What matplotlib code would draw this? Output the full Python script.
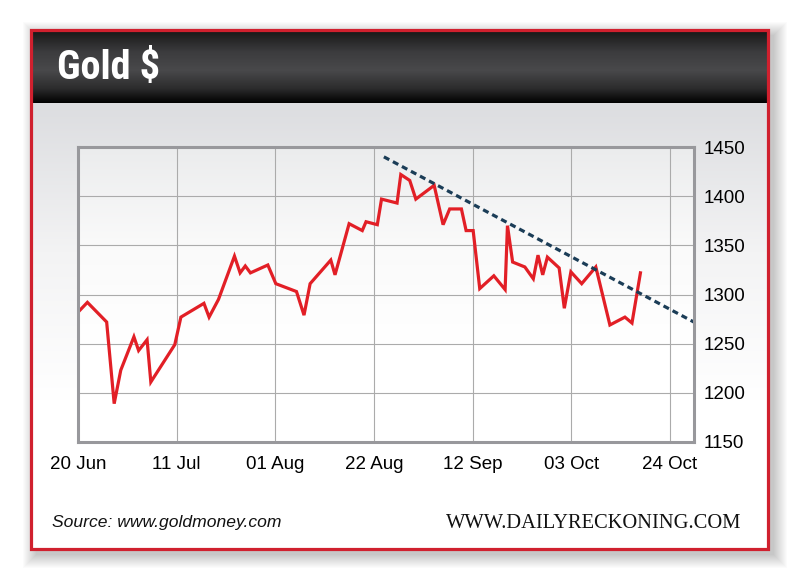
import matplotlib
matplotlib.use('Agg')
import matplotlib.pyplot as plt
import numpy as np
from matplotlib.patches import Rectangle
from matplotlib.colors import LinearSegmentedColormap

# days counted from 20 Jun, gold price in $
day = [0.2, 2.0, 6.1, 7.7, 9.1, 11.9, 12.9, 14.7, 15.5, 20.6,
       21.9, 26.8, 27.9, 29.9, 33.3, 34.5, 35.6, 36.7, 40.4, 42.1,
       46.5, 48.1, 49.4, 53.8, 54.7, 57.7, 60.5, 61.3, 63.7, 64.6,
       67.9, 68.7, 70.6, 71.9, 75.8, 77.7, 79.1, 81.6, 82.6, 84.1,
       85.5, 88.5, 90.9, 91.4, 92.5, 95.1, 96.9, 97.9, 98.9, 99.9,
       102.4, 103.5, 104.9, 107.2, 110.2, 113.2, 116.4, 117.9, 119.7]
price = [1283, 1292, 1272, 1189, 1223, 1257, 1243, 1254, 1211, 1249,
         1277, 1291, 1277, 1295, 1339, 1322, 1329, 1322, 1330, 1311,
         1303, 1279, 1311, 1335, 1320, 1372, 1365, 1374, 1371, 1397,
         1393, 1422, 1416, 1397, 1411, 1371, 1387, 1387, 1365, 1365,
         1306, 1319, 1305, 1370, 1333, 1328, 1316, 1340, 1320, 1338,
         1327, 1286, 1323, 1311, 1328, 1269, 1277, 1271, 1322]

trend_day = [65.1, 135.0]
trend_price = [1440, 1262]

tick_days = [0, 21, 42, 63, 84, 105, 126]
tick_labels = ['20 Jun', '11 Jul', '01 Aug', '22 Aug', '12 Sep', '03 Oct', '24 Oct']
y_ticks = [1150, 1200, 1250, 1300, 1350, 1400, 1450]

fig = plt.figure(figsize=(8, 5.8), dpi=100)
fig.patch.set_facecolor('white')

# background layer in pixel coordinates
bg = fig.add_axes([0, 0, 1, 1])
bg.set_xlim(0, 800)
bg.set_ylim(580, 0)
bg.axis('off')

# soft drop shadow
for i in range(14):
    bg.add_patch(Rectangle((31 - i + 5, 29 - i + 6), 738 + 2 * i, 520 + 2 * i,
                           facecolor='black', edgecolor='none', alpha=0.016))
bg.add_patch(Rectangle((31, 29), 738, 520, facecolor='white', edgecolor='none'))

# panel gradient below the header
panel_cmap = LinearSegmentedColormap.from_list('panel', ['#dcdde0', '#f3f3f4', '#ffffff', '#ffffff'])
grad = np.linspace(0, 1, 256).reshape(-1, 1)
bg.imshow(grad, cmap=panel_cmap, extent=[32, 768, 549, 103], aspect='auto', origin='upper', zorder=1)

# header band
head_cmap = LinearSegmentedColormap.from_list(
    'head', [(0, '#161616'), (0.3, '#3c3c3e'), (0.55, '#49494b'), (0.8, '#2c2c2d'), (1, '#000000')])
bg.imshow(grad, cmap=head_cmap, extent=[32, 768, 103, 30], aspect='auto', origin='upper', zorder=2)

# red frame
bg.add_patch(Rectangle((31, 29.5), 737, 519, facecolor='none', edgecolor='#d0202e', linewidth=2.3, zorder=3))

bg.text(57, 68, 'Gold $', color='white', fontsize=29, fontweight='bold', fontstretch='condensed',
        family=['Roboto Condensed', 'Liberation Sans Narrow', 'DejaVu Sans'],
        va='center', ha='left', zorder=4)
bg.text(52, 523, 'Source: www.goldmoney.com', fontsize=12.6, style='italic',
        family=['Liberation Sans', 'DejaVu Sans'], va='center', ha='left', color='#111111')
bg.text(741, 523, 'WWW.DAILYRECKONING.COM', fontsize=14.8,
        family=['Liberation Serif', 'DejaVu Serif'], va='center', ha='right', color='#111111')

# chart
ax = fig.add_axes([78 / 800, (580 - 442) / 580, 616 / 800, 295 / 580])
ax.set_facecolor('none')
plot_cmap = LinearSegmentedColormap.from_list('plotbg', ['#ebeced', '#fafafa', '#ffffff', '#ffffff'])
ax.imshow(grad, cmap=plot_cmap, extent=[0, 1, 0, 1], transform=ax.transAxes,
          aspect='auto', origin='upper', zorder=0)

ax.plot(day, price, color='#e21f26', linewidth=2.3, solid_joinstyle='miter', zorder=3)
ax.plot(trend_day, trend_price, color='#1b3d57', linewidth=2.3, linestyle=(0, (1.9, 1.3)), zorder=4)

ax.set_xlim(0, 131.1)
ax.set_ylim(1150, 1450)
ax.set_xticks(tick_days)
ax.set_xticklabels(tick_labels)
ax.set_yticks(y_ticks)
ax.yaxis.tick_right()
ax.tick_params(length=0, labelsize=13.5)
ax.tick_params(axis='x', pad=10)
ax.tick_params(axis='y', pad=7)
for lab in ax.get_xticklabels() + ax.get_yticklabels():
    lab.set_family(['Liberation Sans', 'DejaVu Sans'])
ax.grid(True, color='#ababab', linewidth=0.8, zorder=1)
ax.set_axisbelow(True)
for s in ax.spines.values():
    s.set_color('#98989c')
    s.set_linewidth(2.2)
    s.set_zorder(5)

fig.savefig('out.png', dpi=100)
